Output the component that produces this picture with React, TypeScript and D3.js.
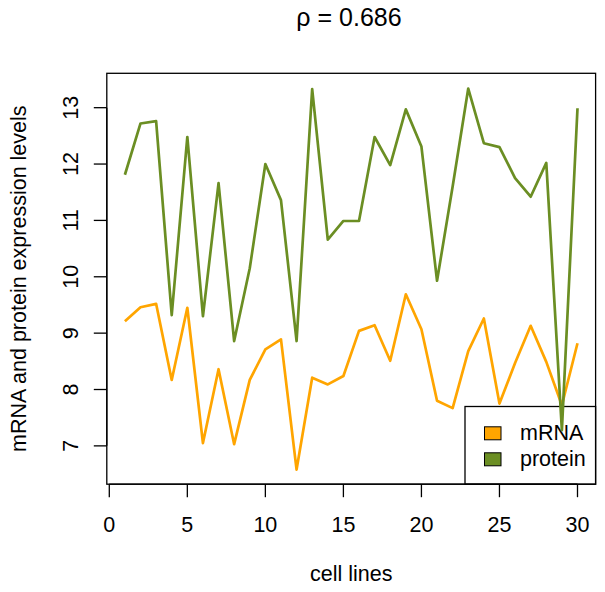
import React from "react";
import * as d3 from "d3";

const cellLines = d3.range(1, 31);
const mrna = [9.21, 9.46, 9.52, 8.17, 9.45, 7.05, 8.36, 7.03, 8.17, 8.71, 8.89, 6.58, 8.21, 8.09, 8.24, 9.04, 9.14, 8.51, 9.69, 9.07, 7.80, 7.67, 8.68, 9.26, 7.75, 8.47, 9.13, 8.49, 7.72, 8.82];
const protein = [11.81, 12.72, 12.76, 9.32, 12.48, 9.30, 11.66, 8.86, 10.15, 12.0, 11.36, 8.86, 13.33, 10.66, 10.99, 10.99, 12.48, 11.98, 12.97, 12.31, 9.93, 11.6, 13.34, 12.37, 12.30, 11.75, 11.42, 12.02, 7.28, 12.99];
const xTicks = [0, 5, 10, 15, 20, 25, 30];
const yTicks = [7, 8, 9, 10, 11, 12, 13];
const seriesNames = ["mRNA", "protein"];
const seriesColors = ["#FFA500", "#6B8E23"];
const title = "ρ = 0.686";
const xLabel = "cell lines";
const yLabel = "mRNA and protein expression levels";

const W = 605, H = 592;
const L = 106.8, R = 595.6, T = 73.3, B = 484.2;
const FONT = "'Liberation Sans', Arial, Helvetica, sans-serif";

export default function App() {
  const x = d3.scaleLinear().domain([-0.16, 31.16]).range([L, R]);
  const y = d3.scaleLinear().domain([6.32, 13.61]).range([B, T]);
  const line = d3.line<number>().x((_, i) => x(cellLines[i])).y((d) => y(d));
  const series = [mrna, protein];
  const fs = 21.5;
  return (
    <svg width={W} height={H} style={{ position: "absolute", left: 0, top: 0, background: "#fff" }} fontFamily={FONT}>
      <rect x={0} y={0} width={W} height={H} fill="#fff" />
      <text x={349} y={26} fontSize={25} textAnchor="middle">{title}</text>
      {/* legend */}
      <rect x={465} y={406.5} width={R - 465} height={B - 406.5} fill="none" stroke="#000" strokeWidth={1.3} />
      {seriesNames.map((n, k) => (
        <g key={n}>
          <rect x={484.5} y={426.8 + k * 26} width={16.5} height={13} fill={seriesColors[k]} stroke="#000" strokeWidth={1} />
          <text x={520} y={440 + k * 26} fontSize={fs}>{n}</text>
        </g>
      ))}
      {series.map((s, k) => (
        <path key={k} d={line(s) || ""} fill="none" stroke={seriesColors[k]} strokeWidth={2.7} strokeLinejoin="round" />
      ))}
      <rect x={L} y={T} width={R - L} height={B - T} fill="none" stroke="#000" strokeWidth={1.3} />
      {/* x axis */}
      <line x1={x(xTicks[0])} x2={x(xTicks[xTicks.length - 1])} y1={B} y2={B} stroke="#000" strokeWidth={1.3} />
      {xTicks.map((t) => (
        <g key={t}>
          <line x1={x(t)} x2={x(t)} y1={B} y2={B + 13} stroke="#000" strokeWidth={1.3} />
          <text x={x(t)} y={531.7} fontSize={fs} textAnchor="middle">{t}</text>
        </g>
      ))}
      <text x={(L + R) / 2} y={580.7} fontSize={fs} textAnchor="middle">{xLabel}</text>
      {/* y axis */}
      <line x1={L} x2={L} y1={y(yTicks[0])} y2={y(yTicks[yTicks.length - 1])} stroke="#000" strokeWidth={1.3} />
      {yTicks.map((t) => (
        <g key={t}>
          <line x1={L - 13} x2={L} y1={y(t)} y2={y(t)} stroke="#000" strokeWidth={1.3} />
          <text transform={`translate(77.5,${y(t)}) rotate(-90)`} fontSize={fs} textAnchor="middle">{t}</text>
        </g>
      ))}
      <text transform={`translate(25.5,${(T + B) / 2}) rotate(-90)`} fontSize={fs} textAnchor="middle">{yLabel}</text>
    </svg>
  );
}
